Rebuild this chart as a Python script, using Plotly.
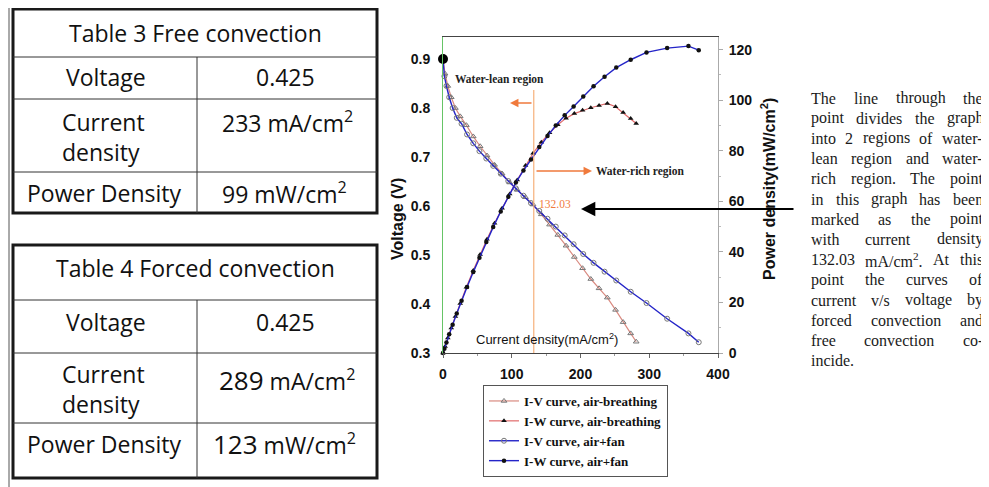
import plotly.graph_objects as go

# ---------------- data ----------------
ab_I = [0, 3, 7, 12, 18, 25, 34, 44, 54, 64, 75, 86, 97, 108, 120, 131, 143, 155, 167, 179,
        191, 203, 215, 227, 239, 251, 262, 273, 281]
ab_V = [0.90, 0.87, 0.845, 0.822, 0.80, 0.783, 0.765, 0.742, 0.722, 0.703, 0.684, 0.666, 0.648,
        0.633, 0.618, 0.603, 0.583, 0.562, 0.541, 0.519, 0.496, 0.473, 0.451, 0.432, 0.413,
        0.388, 0.363, 0.34, 0.323]
ab_P = [0, 2.6, 5.9, 9.9, 14.4, 19.6, 26.0, 32.6, 39.0, 45.0, 51.3, 57.3, 62.9, 68.4, 74.2,
        79.0, 83.4, 87.1, 90.3, 92.9, 94.7, 96.0, 97.0, 97.9, 98.7, 97.4, 95.1, 92.8, 90.8]

fan_I = [0, 2, 5, 9, 14, 20, 27, 35, 44, 53, 63, 73, 84, 95, 106, 117, 128, 140, 152, 164,
         177, 190, 204, 219, 235, 252, 273, 296, 326, 357, 372]
fan_V = [0.90, 0.865, 0.845, 0.822, 0.80, 0.78, 0.768, 0.746, 0.728, 0.712, 0.697, 0.682, 0.666,
         0.651, 0.636, 0.621, 0.606, 0.59, 0.574, 0.558, 0.54, 0.522, 0.502, 0.484, 0.466,
         0.448, 0.425, 0.402, 0.37, 0.34, 0.322]
fan_P = [0, 1.7, 4.2, 7.4, 11.2, 15.6, 20.7, 26.1, 32.0, 37.7, 43.9, 49.8, 56.0, 61.8, 67.4,
         72.2, 76.5, 81.5, 85.8, 90.0, 94.0, 97.5, 101.5, 105.5, 109.3, 112.9, 116.0, 118.9,
         120.6, 121.4, 119.8]

start_I = [0]
start_V = [0.90]
split_I = 132.03

x_ticks = [0, 100, 200, 300, 400]
v_ticks = [0.3, 0.4, 0.5, 0.6, 0.7, 0.8, 0.9]
p_ticks = [0, 20, 40, 60, 80, 100, 120]

legend_names = ["I-V curve, air-breathing", "I-W curve, air-breathing",
                "I-V curve, air+fan", "I-W curve, air+fan"]

table3_title = "Table 3 Free convection"
table4_title = "Table 4 Forced convection"
row_labels = ["Voltage", "Current<br>density", "Power Density"]
table3_values = ["0.425", "233 mA/cm<sup>2</sup>", "99 mW/cm<sup>2</sup>"]
table4_values = ["0.425", "<span style='font-size:26px'>289</span> mA/cm<sup>2</sup>",
                 "<span style='font-size:26px'>123</span> mW/cm<sup>2</sup>"]

paragraph_lines = [
    "The line through the",
    "point divides the graph",
    "into 2 regions of water-",
    "lean region and water-",
    "rich region. The point",
    "in this graph has been",
    "marked as the point",
    "with current density",
    "132.03 mA/cm<sup>2</sup>. At this",
    "point the curves of",
    "current v/s voltage by",
    "forced convection and",
    "free convection co-",
    "incide.",
]

# ---------------- geometry helpers ----------------
# page body has an 8px margin, so the figure is drawn 8px smaller and offset
OFF = 8
W, H = 989 - OFF, 487 - OFF
L, R, T, B = 443, 718, 37, 353   # plot area in reference pixels


def px(x):
    return (x - L) / (R - L)


def py(y):
    return (B - y) / (B - T)


fig = go.Figure()

fig.add_trace(go.Scatter(
    x=ab_I, y=ab_V, name=legend_names[0], mode="lines+markers", cliponaxis=False,
    line=dict(color="#d98a80", width=1.2),
    marker=dict(symbol="triangle-up-open", size=5, color="#777777", line=dict(width=1))))
fig.add_trace(go.Scatter(
    x=ab_I, y=ab_P, yaxis="y2", name=legend_names[1], mode="lines+markers", cliponaxis=False,
    line=dict(color="#e06a6a", width=1.2),
    marker=dict(symbol="triangle-up", size=5, color="#111111")))
fig.add_trace(go.Scatter(
    x=fan_I, y=fan_V, name=legend_names[2], mode="lines+markers", cliponaxis=False,
    line=dict(color="#2424c8", width=1.4),
    marker=dict(symbol="circle-open", size=5, color="#777777", line=dict(width=1))))
fig.add_trace(go.Scatter(
    x=fan_I, y=fan_P, yaxis="y2", name=legend_names[3], mode="lines+markers", cliponaxis=False,
    line=dict(color="#2424c8", width=1.4),
    marker=dict(symbol="circle", size=4.5, color="#111111")))
fig.add_trace(go.Scatter(
    x=start_I, y=start_V, mode="markers", showlegend=False, cliponaxis=False,
    marker=dict(size=10, color="black")))

tickfont = dict(family="Liberation Sans", size=14, color="#111111", weight="bold")

annotations = []
shapes = []


def txt(text, x, y, size, family, anchor="center", color="#111111", weight="normal", angle=0,
        align="center"):
    annotations.append(dict(
        text=text, x=px(x), y=py(y), xref="paper", yref="paper", xanchor=anchor,
        yanchor="middle", showarrow=False, textangle=angle, borderpad=0, borderwidth=0,
        align=align, font=dict(family=family, size=size, color=color, weight=weight)))


def line(x0, y0, x1, y1, color="#222222", width=1):
    shapes.append(dict(type="line", xref="paper", yref="paper", x0=px(x0), y0=py(y0),
                       x1=px(x1), y1=py(y1), line=dict(color=color, width=width)))


# ---------------- page frame ----------------
line(9, 6, 989, 6, "#333333", 1.2)
line(9, 6, 9, 487, "#555555", 1)

# ---------------- tables ----------------
TF = "Open Sans"
TS = 23


def table(top, bottom, rows, title, values, ys):
    shapes.append(dict(type="rect", xref="paper", yref="paper", x0=px(13), x1=px(377),
                       y0=py(top), y1=py(bottom), line=dict(color="#1a1a1a", width=3)))
    for r in rows:
        line(13, r, 377, r, "#333333", 1)
    line(197, rows[0], 197, bottom, "#333333", 1)
    txt(title, 195, ys[0], TS, TF)
    txt(row_labels[0], 106, ys[1], TS, TF)
    txt(values[0], 285, ys[1], TS, TF)
    txt(row_labels[1], 62, ys[2], TS, TF, anchor="left", align="left")
    txt(values[1], 287, ys[3], TS, TF)
    txt(row_labels[2], 104, ys[4], TS, TF)
    txt(values[2], 284, ys[4], TS, TF)


table(9, 213, [57, 99, 172], table3_title, table3_values, [33, 77, 137, 122, 193])
table(245, 478, [300, 353, 423], table4_title, table4_values, [268, 322, 389, 380, 444])

# ---------------- chart annotations ----------------
ORANGE = "#f07a3c"
shapes.append(dict(type="line", xref="x", yref="y", x0=split_I, x1=split_I, y0=0.3, y1=0.837,
                   line=dict(color="#f6b07a", width=1.2)))
txt("Water-lean region", 499, 80, 11.5, "Liberation Serif", weight="bold", color="#222222")
txt("Water-rich region", 640, 172, 11.5, "Liberation Serif", weight="bold", color="#222222")
txt(f"{split_I:.2f}", 555, 204, 11.5, "Liberation Serif", color=ORANGE)
txt("Current density(mA/cm<sup>2</sup>)", 547, 339, 13, "Liberation Sans", color="#111111")
txt("Voltage (V)", 397, 219, 16, "Liberation Sans", weight="bold", angle=-90)
txt("Power density(mW/cm<sup>2</sup>)", 768, 189, 16, "Liberation Sans", weight="bold", angle=-90)

for head, tail_dx, y in [(510, 23, 103), (592, -57, 171)]:
    annotations.append(dict(
        x=px(head), y=py(y), xref="paper", yref="paper", ax=tail_dx, ay=0, text="",
        showarrow=True, arrowhead=2, arrowsize=1.3, arrowwidth=1.3, arrowcolor=ORANGE))
annotations.append(dict(
    x=px(581), y=py(209), xref="paper", yref="paper", ax=214, ay=0, text="",
    showarrow=True, arrowhead=2, arrowsize=1.3, arrowwidth=2.2, arrowcolor="#000000"))

# ---------------- justified paragraph ----------------
TW = {" ": 250, ".": 250, ",": 250, "-": 333, "/": 278,
      "a": 444, "b": 500, "c": 444, "d": 500, "e": 444, "f": 333, "g": 500, "h": 500,
      "i": 278, "j": 278, "k": 500, "l": 278, "m": 778, "n": 500, "o": 500, "p": 500,
      "q": 500, "r": 333, "s": 389, "t": 278, "u": 500, "v": 500, "w": 722, "x": 500,
      "y": 500, "z": 444, "A": 722, "T": 611}
FS = 16


def word_w(w):
    extra = 0
    if "<sup>" in w:
        w = w.replace("<sup>2</sup>", "")
        extra = 340
    return (sum(TW.get(c, 500) for c in w) + extra) * FS / 1000


P_LEFT, P_RIGHT, P_TOP, P_STEP = 811, 983, 98, 20.2
last = len(paragraph_lines) - 1
for i, ln in enumerate(paragraph_lines):
    words = ln.split(" ")
    yv = P_TOP + i * P_STEP
    ws = [word_w(w) for w in words]
    if i == last or len(words) == 1:
        gap = 0.25 * FS
    else:
        gap = (P_RIGHT - P_LEFT - sum(ws)) / (len(words) - 1)
    xc = P_LEFT
    for j, (w, wd) in enumerate(zip(words, ws)):
        if j == len(words) - 1 and i != last and len(words) > 1:
            txt(w, P_RIGHT, yv, FS, "Liberation Serif", anchor="right", color="#1a1a1a")
        else:
            txt(w, xc, yv, FS, "Liberation Serif", anchor="left", color="#1a1a1a")
        xc += wd + gap

# ---------------- layout ----------------
fig.update_layout(
    width=W, height=H,
    margin=dict(l=L - OFF, r=989 - R, t=T - OFF, b=487 - B, autoexpand=False),
    paper_bgcolor="white", plot_bgcolor="white",
    xaxis=dict(range=[0, 400], tickvals=x_ticks, ticks="outside", ticklen=4, tickcolor="#666666",
               showline=True, linecolor="#444444", linewidth=1, mirror=True, showgrid=False,
               zeroline=False, tickfont=tickfont, ticklabelstandoff=4,
               minor=dict(ticks="outside", ticklen=2, dtick=50, tickcolor="#999999")),
    yaxis=dict(range=[0.3, 0.945], tickvals=v_ticks, tickformat=".1f", ticks="",
               showline=True, linecolor="#66c466", linewidth=1, showgrid=False, zeroline=False,
               tickfont=tickfont, ticklabelstandoff=9),
    yaxis2=dict(overlaying="y", side="right", range=[0, 125], tickvals=p_ticks,
                ticks="outside", ticklen=4, tickcolor="#aaaaaa", showline=True,
                linecolor="#aaaaaa", linewidth=1, showgrid=False, zeroline=False,
                tickfont=tickfont, ticklabelstandoff=3,
                minor=dict(ticks="outside", ticklen=2, dtick=10, tickcolor="#bbbbbb")),
    showlegend=True,
    legend=dict(x=px(483), y=py(385), xanchor="left", yanchor="top", bgcolor="white",
                bordercolor="#555555", borderwidth=1, itemwidth=30, tracegroupgap=0,
                font=dict(family="Liberation Serif", size=13, color="#111111", weight="bold")),
    annotations=annotations,
    shapes=shapes,
)

fig.write_html("out.html")
